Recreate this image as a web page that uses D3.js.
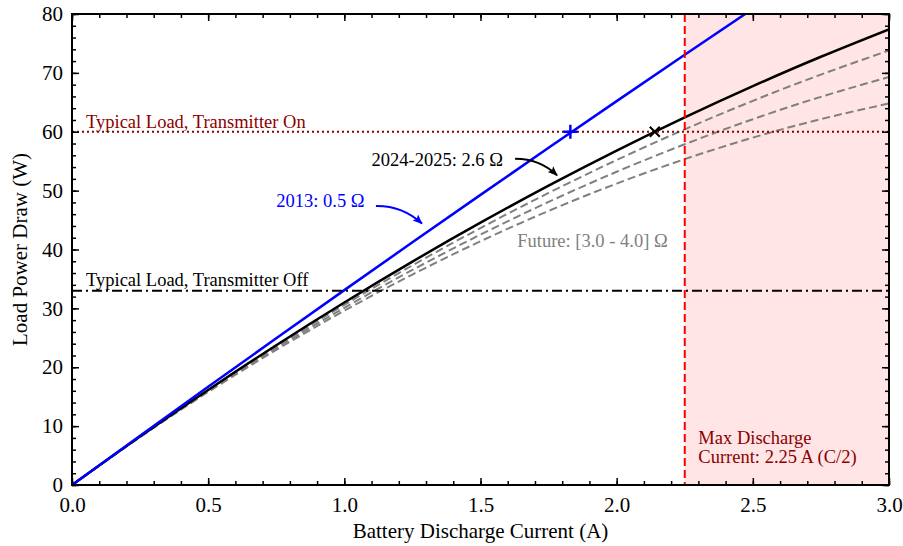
<!DOCTYPE html>
<html>
<head>
<meta charset="utf-8">
<script src="https://cdn.jsdelivr.net/npm/d3@7"></script>
<style>
  body { margin: 0; background: #fff; }
  text { font-family: "Liberation Serif", "DejaVu Serif", serif; }
</style>
</head>
<body>
<svg id="chart"></svg>
<script>
// current samples (A)
const current = [0, 0.25, 0.5, 0.75, 1.0, 1.25, 1.5, 1.75, 2.0, 2.25, 2.5, 2.75, 3.0];

// load power (W)
const power2013 = [0, 8.37, 16.68, 24.92, 33.1, 41.22, 49.28, 57.27, 65.2, 73.07, 80.88];
const power2024 = [0, 8.24, 16.15, 23.74, 31.0, 37.94, 44.55, 50.84, 56.8, 62.44, 67.75, 72.74, 77.4];
const powerFuture30 = [0, 8.21, 16.05, 23.51, 30.6, 37.31, 43.65, 49.61, 55.2, 60.41, 65.25, 69.71, 73.8];
const powerFuture35 = [0, 8.18, 15.93, 23.23, 30.1, 36.53, 42.53, 48.08, 53.2, 57.88, 62.13, 65.93, 69.3];
const powerFuture40 = [0, 8.15, 15.8, 22.95, 29.6, 35.75, 41.4, 46.55, 51.2, 55.35, 59.0, 62.15, 64.8];

const loadOn = 60, loadOff = 33, maxDischarge = 2.25;
const marker2013 = [1.83, 60], marker2024 = [2.14, 60];

const xTicks = [0, 0.5, 1.0, 1.5, 2.0, 2.5, 3.0];
const yTicks = [0, 10, 20, 30, 40, 50, 60, 70, 80];

const config = { width: 903, height: 546, margin: { top: 14, right: 14, bottom: 61, left: 72 } };
const W = config.width - config.margin.left - config.margin.right;
const H = config.height - config.margin.top - config.margin.bottom;

const svg = d3.select('#chart').attr('width', config.width).attr('height', config.height);
const chart = svg.append('g').attr('transform', `translate(${config.margin.left},${config.margin.top})`);

const x = d3.scaleLinear().domain([0, 3]).range([0, W]);
const y = d3.scaleLinear().domain([0, 80]).range([H, 0]);

svg.append('defs').append('clipPath').attr('id', 'clip')
  .append('rect').attr('width', W).attr('height', H);

svg.select('defs').selectAll('marker')
  .data([['arrowBlack', '#000'], ['arrowBlue', '#0000ff']])
  .join('marker')
    .attr('id', d => d[0])
    .attr('viewBox', '0 -5 10 10')
    .attr('refX', 9).attr('refY', 0)
    .attr('markerWidth', 14).attr('markerHeight', 10)
    .attr('markerUnits', 'userSpaceOnUse')
    .attr('orient', 'auto')
  .append('path')
    .attr('d', 'M0,-4L10,0L0,4L2,0Z')
    .attr('fill', d => d[1]);

const plot = chart.append('g').attr('clip-path', 'url(#clip)');

// shaded region beyond max discharge
plot.append('rect')
  .attr('x', x(maxDischarge)).attr('y', 0)
  .attr('width', x(3) - x(maxDischarge)).attr('height', H)
  .attr('fill', '#ffe5e5');

const line = d3.line()
  .x((d, i) => x(current[i]))
  .y(d => y(d))
  .curve(d3.curveNatural);

[powerFuture30, powerFuture35, powerFuture40].forEach(s => {
  plot.append('path').attr('d', line(s))
    .attr('fill', 'none').attr('stroke', '#808080')
    .attr('stroke-width', 2).attr('stroke-dasharray', '8,4');
});

plot.append('path').attr('d', line(power2024))
  .attr('fill', 'none').attr('stroke', '#000').attr('stroke-width', 2.5);
plot.append('path').attr('d', line(power2013))
  .attr('fill', 'none').attr('stroke', '#0000ff').attr('stroke-width', 2.5);

// reference lines
plot.append('line')
  .attr('x1', 0).attr('x2', W).attr('y1', y(loadOn)).attr('y2', y(loadOn))
  .attr('stroke', '#8b0000').attr('stroke-width', 2).attr('stroke-dasharray', '2,3');
plot.append('line')
  .attr('x1', 0).attr('x2', W).attr('y1', y(loadOff)).attr('y2', y(loadOff))
  .attr('stroke', '#000').attr('stroke-width', 2).attr('stroke-dasharray', '10,4,2,4');
plot.append('line')
  .attr('x1', x(maxDischarge)).attr('x2', x(maxDischarge)).attr('y1', 0).attr('y2', H)
  .attr('stroke', '#ff0000').attr('stroke-width', 2).attr('stroke-dasharray', '8,4');

// markers
const mx = x(marker2013[0]), my = y(marker2013[1]);
chart.append('path')
  .attr('d', `M${mx - 7},${my}H${mx + 7}M${mx},${my - 7}V${my + 7}`)
  .attr('stroke', '#0000ff').attr('stroke-width', 2.5);
const kx = x(marker2024[0]), ky = y(marker2024[1]);
chart.append('path')
  .attr('d', `M${kx - 5},${ky - 5}L${kx + 5},${ky + 5}M${kx - 5},${ky + 5}L${kx + 5},${ky - 5}`)
  .attr('stroke', '#000').attr('stroke-width', 2);

// text labels
const fs = '18.5px';
chart.append('text').attr('x', 14).attr('y', y(loadOn) - 4)
  .attr('fill', '#8b0000').style('font-size', fs).text('Typical Load, Transmitter On');
chart.append('text').attr('x', 14).attr('y', y(loadOff) - 5)
  .attr('fill', '#000').style('font-size', fs).text('Typical Load, Transmitter Off');
chart.append('text').attr('x', x(1.1)).attr('y', y(54.2))
  .attr('fill', '#000').style('font-size', fs).text('2024-2025: 2.6 Ω');
chart.append('text').attr('x', x(0.75)).attr('y', y(47.2))
  .attr('fill', '#0000ff').style('font-size', fs).text('2013: 0.5 Ω');
chart.append('text').attr('x', x(1.635)).attr('y', y(40.4))
  .attr('fill', '#808080').style('font-size', fs).text('Future: [3.0 - 4.0] Ω');
const maxText = chart.append('text').attr('fill', '#8b0000').style('font-size', fs);
maxText.append('tspan').attr('x', x(2.3)).attr('y', y(6.9)).text('Max Discharge');
maxText.append('tspan').attr('x', x(2.3)).attr('y', y(3.7)).text('Current: 2.25 A (C/2)');

// curved arrows
function arrow(x0, y0, x1, y1, color, id, bend) {
  const sx = x(x0), sy = y(y0), ex = x(x1), ey = y(y1);
  const mxp = (sx + ex) / 2 - (ey - sy) * bend, myp = (sy + ey) / 2 + (ex - sx) * bend;
  chart.append('path')
    .attr('d', `M${sx},${sy}Q${mxp},${myp} ${ex},${ey}`)
    .attr('fill', 'none').attr('stroke', color).attr('stroke-width', 2)
    .attr('marker-end', `url(#${id})`);
}
arrow(1.627, 55.4, 1.781, 52.6, '#000', 'arrowBlack', -0.2);
arrow(1.116, 47.4, 1.285, 44.4, '#0000ff', 'arrowBlue', -0.2);

// axes with inward ticks on all sides
const xMinor = d3.range(0, 3.0001, 0.1), yMinor = d3.range(0, 80.001, 2);
const tickLabel = '21px';
function ticks(g, orient, scale, values, len, labels) {
  const ax = (orient === 'bottom' ? d3.axisBottom : orient === 'top' ? d3.axisTop :
              orient === 'left' ? d3.axisLeft : d3.axisRight)(scale)
    .tickValues(values).tickSizeInner(-len).tickSizeOuter(0);
  if (labels) ax.tickFormat(labels).tickPadding(9);
  else ax.tickFormat('');
  g.call(ax);
  g.select('.domain').remove();
  g.selectAll('.tick line').attr('stroke', '#000').attr('stroke-width', 1.5);
  g.selectAll('.tick text').attr('fill', '#000').style('font-size', tickLabel)
    .style('font-family', '"Liberation Serif", serif');
}
const gB = chart.append('g').attr('transform', `translate(0,${H})`);
ticks(gB.append('g'), 'bottom', x, xMinor, 4, null);
ticks(gB.append('g'), 'bottom', x, xTicks, 7, d3.format('.1f'));
const gT = chart.append('g');
ticks(gT.append('g'), 'top', x, xMinor, 4, null);
ticks(gT.append('g'), 'top', x, xTicks, 7, null);
const gL = chart.append('g');
ticks(gL.append('g'), 'left', y, yMinor, 4, null);
ticks(gL.append('g'), 'left', y, yTicks, 7, d3.format('d'));
const gR = chart.append('g').attr('transform', `translate(${W},0)`);
ticks(gR.append('g'), 'right', y, yMinor, 4, null);
ticks(gR.append('g'), 'right', y, yTicks, 7, null);
gB.selectAll('.tick text').attr('dy', '0.95em').attr('y', 7);

chart.append('rect').attr('width', W).attr('height', H)
  .attr('fill', 'none').attr('stroke', '#000').attr('stroke-width', 2);

// axis titles
svg.append('text')
  .attr('x', config.margin.left + W / 2).attr('y', 538)
  .attr('text-anchor', 'middle').style('font-size', '21px')
  .text('Battery Discharge Current (A)');
svg.append('text')
  .attr('transform', `translate(27,${config.margin.top + H / 2}) rotate(-90)`)
  .attr('text-anchor', 'middle').style('font-size', '21px')
  .text('Load Power Draw (W)');
</script>
</body>
</html>
